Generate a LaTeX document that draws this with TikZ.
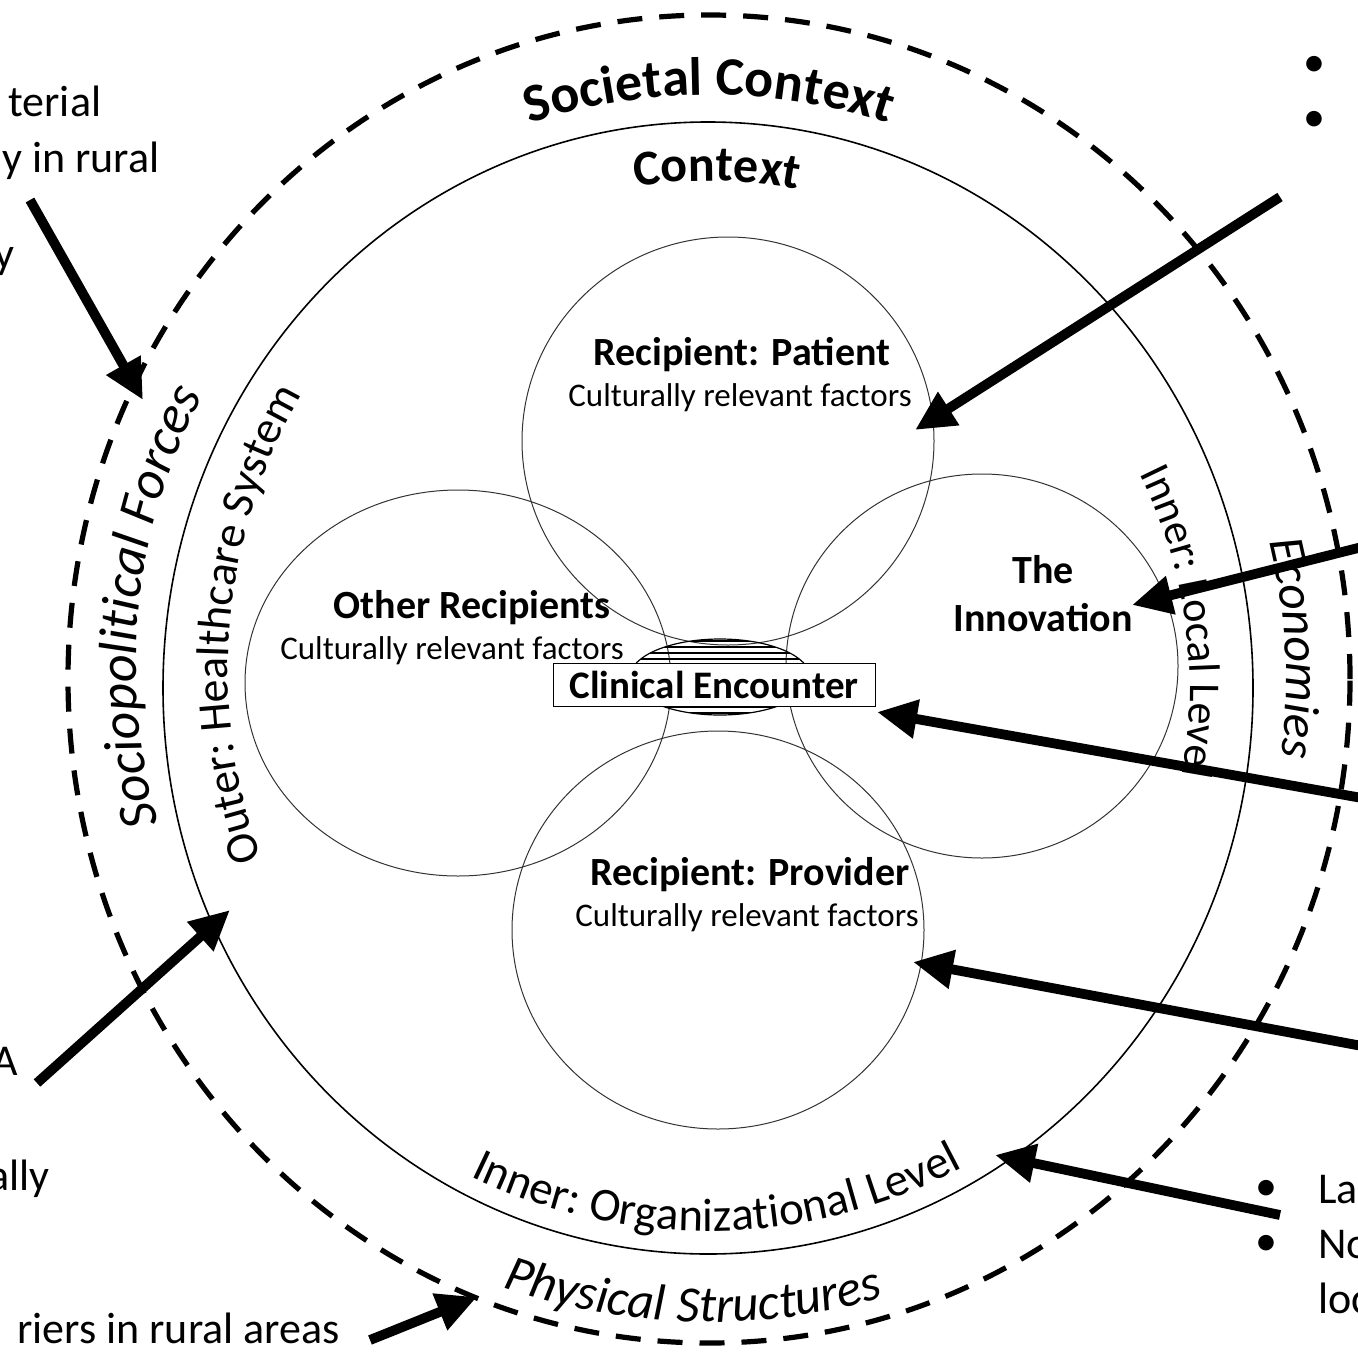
\documentclass[tikz,border=0pt]{standalone}
\usepackage{fontspec}
\setmainfont{Carlito}
\usetikzlibrary{arrows.meta,decorations.text}
\newcommand\fSoc{\fontsize{27}{32}\selectfont\bfseries}
\newcommand\fCtx{\fontsize{25}{30}\selectfont\bfseries}
\newcommand\fSP{\fontsize{27}{32}\selectfont\itshape}
\newcommand\fOH{\fontsize{23}{27}\selectfont}
\newcommand\fIL{\fontsize{22}{26}\selectfont}
\newcommand\fEc{\fontsize{25}{30}\selectfont\itshape}
\newcommand\fIO{\fontsize{23.5}{28}\selectfont}
\newcommand\fPS{\fontsize{25.5}{30}\selectfont\itshape}
\begin{document}
\begin{tikzpicture}[x=0.5pt,y=0.5pt,
  outerring/.style={line width=2.6pt,dash pattern=on 12.5pt off 8.5pt},
  midring/.style={line width=0.8pt},
  petal/.style={line width=0.5pt,draw=black!80},
  bigarrow/.style={line width=4.9pt,-{Triangle[length=20pt,width=18.5pt]}},
  boldlab/.style={font=\fontsize{20}{24}\selectfont\bfseries,inner sep=0pt},
  smalllab/.style={font=\fontsize{16.5}{20}\selectfont,inner sep=0pt},
  cebox/.style={draw,fill=white,line width=0.5pt,inner sep=0pt,minimum width=161pt,minimum height=21.5pt,font=\fontsize{19.5}{23}\selectfont\bfseries},
  fragl/.style={font=\fontsize{22}{26}\selectfont,inner sep=0pt,anchor=base west},
  fragr/.style={font=\fontsize{22}{26}\selectfont,inner sep=0pt,anchor=base east},
  fragb/.style={font=\fontsize{22}{26}\selectfont,inner sep=0pt,anchor=base west},
  curved/.style={decorate,decoration={text along path,text align=center,text={#1}}}
]
\useasboundingbox (0,0) rectangle (1358,-1354);
% rings
\draw[outerring] (709,-679) ellipse [x radius=641, y radius=664];
\draw[midring] (708,-688) ellipse [x radius=545, y radius=566];
% petals
\draw[petal] (728,-441) ellipse [x radius=206, y radius=204];
\draw[petal] (718,-930) ellipse [x radius=206, y radius=199];
\draw[petal] (458,-683) ellipse [x radius=213, y radius=193];
\draw[petal] (982,-666) ellipse [x radius=196, y radius=192];
% hatched lens
\begin{scope}
\clip (720,-677) ellipse [x radius=90, y radius=38];
\foreach \k in {0,...,14} \draw[line width=1.1pt] (620,{-641-6*\k}) -- (830,{-641-6*\k});
\end{scope}
\draw[line width=0.6pt] (720,-677) ellipse [x radius=90, y radius=38];
\node[cebox] (ce) at (714,-685) {Clinical Encounter};
% labels
\node[boldlab] (pt) at (742,-355) {Recipient: Patient};
\node[smalllab] (ptc) at (740,-398) {Culturally relevant factors};
\node[boldlab] (ot) at (472,-608) {Other Recipients};
\node[smalllab] (otc) at (452,-651) {Culturally relevant factors};
\node[boldlab,align=center] (inn) at (1043,-594) {The\\Innovation};
\node[boldlab] (pr) at (750,-875) {Recipient: Provider};
\node[smalllab] (prc) at (747,-918) {Culturally relevant factors};
% curved labels
\path[curved={|\fSoc|Societal Context}] (709,-679) ++(150:584) arc[start angle=150,end angle=30,radius=584];
\path[curved={|\fCtx|Context}] (708,-688) ++(149:507) arc[start angle=149,end angle=29,radius=507];
\path[curved={|\fSP|Sociopolitical Forces}] (708,-665) ++(214:572) arc[start angle=214,end angle=134,radius=572];
\path[curved={|\fOH|Outer: Healthcare System}] (778,-670) ++(215:550) arc[start angle=215,end angle=135,radius=550];
\path[curved={|\fIL|Inner: Local Level}] (708,-688) ++(47.5:482) arc[start angle=47.5,end angle=-31.5,radius=482];
\path[curved={|\fEc|Economies}] (709,-679) ++(43:577) arc[start angle=43,end angle=-37,radius=577];
\path[curved={|\fIO|Inner: Organizational Level}] (708,-688) ++(221:543) arc[start angle=221,end angle=321,radius=543];
\path[curved={|\fPS|Physical Structures}] (709,-679) ++(218.5:643) arc[start angle=218.5,end angle=318.5,radius=643];
% side text fragments
\node[fragl] (l1) at (8,-117) {terial};
\node[fragr] (l2) at (160,-172) {y in rural};
\node[fragr] (l3) at (15,-268) {y};
\node[fragr] (l4) at (18,-1075) {A};
\node[fragr] (l5) at (50,-1190) {ally};
\node[fragr] (l6) at (340,-1343) {riers in rural areas};
\node[fragb] (b1) at (1303,-76) {•};
\node[fragb] (b2) at (1303,-132) {•};
\node[fragb] (b3) at (1255,-1200) {•};
\node[fragb] (r1) at (1318,-1203) {La};
\node[fragb] (b4) at (1255,-1255) {•};
\node[fragb] (r2) at (1318,-1258) {No};
\node[fragb] (r3) at (1318,-1313) {loc};
% arrows
\coordinate (s1) at (30,-200);   \coordinate (t1) at (143,-400);
\coordinate (s2) at (1280,-197); \coordinate (t2) at (915,-430);
\coordinate (s3) at (1362,-547); \coordinate (t3) at (1132,-605);
\coordinate (s4) at (1362,-798); \coordinate (t4) at (877,-712);
\coordinate (s5) at (1362,-1046); \coordinate (t5) at (913,-962);
\coordinate (s6) at (1280,-1215); \coordinate (t6) at (995,-1155);
\coordinate (s7) at (37,-1083);  \coordinate (t7) at (230,-910);
\coordinate (s8) at (370,-1340); \coordinate (t8) at (477,-1297);
\foreach \i in {1,...,8} \draw[bigarrow] (s\i) -- (t\i);
\end{tikzpicture}
\end{document}
